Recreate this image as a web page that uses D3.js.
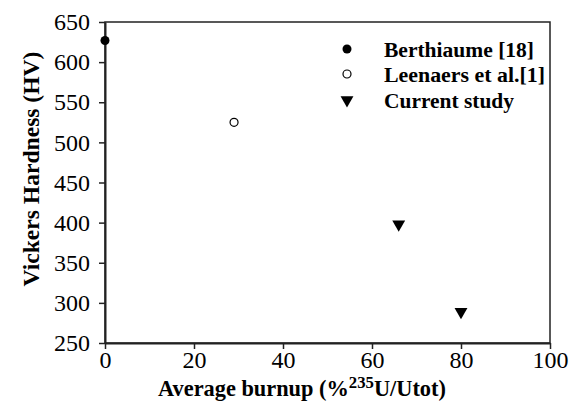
<!DOCTYPE html>
<html>
<head>
<meta charset="utf-8">
<script src="https://cdn.jsdelivr.net/npm/d3@7"></script>
</head>
<body style="margin:0">
<svg id="chart" width="576" height="404"></svg>
<script>
// ---- Data ----
const seriesNames = ["Berthiaume [18]", "Leenaers et al.[1]", "Current study"];
const berthiaumeX = [0];
const berthiaumeY = [627];
const leenaersX = [29];
const leenaersY = [525];
const currentX = [66, 80];
const currentY = [398, 289];
const xTicks = [0, 20, 40, 60, 80, 100];
const yTicks = [250, 300, 350, 400, 450, 500, 550, 600, 650];

const FONT = "Liberation Serif";
const svg = d3.select("#chart");
const W = 576, H = 404;

const x = d3.scaleLinear().domain([0, 100]).range([105, 550]);
const y = d3.scaleLinear().domain([250, 650]).range([343, 22]);

function serif(sel, size, bold) {
  sel.attr("font-family", FONT).style("font-family", FONT)
     .attr("font-size", size).attr("fill", "#000");
  if (bold) sel.attr("font-weight", "bold");
  return sel;
}
// shrink/grow a text to a target width by adjusting its font size
function fit(sel, base, target) {
  const w = sel.node().getComputedTextLength();
  sel.attr("font-size", (base * target / w).toFixed(2));
}

// frame
svg.append("rect")
  .attr("x", x(0)).attr("y", y(650))
  .attr("width", x(100) - x(0)).attr("height", y(250) - y(650))
  .attr("fill", "none").attr("stroke", "#222").attr("stroke-width", 1.5);

// axes
const xAxis = svg.append("g")
  .attr("transform", `translate(0,${y(250)})`)
  .call(d3.axisBottom(x).tickValues(xTicks).tickSizeOuter(0).tickSizeInner(6).tickPadding(2));
const yAxis = svg.append("g")
  .attr("transform", `translate(${x(0)},0)`)
  .call(d3.axisLeft(y).tickValues(yTicks).tickSizeOuter(0).tickSizeInner(6).tickPadding(9));

[xAxis, yAxis].forEach(g => {
  g.attr("font-family", FONT).attr("font-size", 24);
  g.select(".domain").attr("stroke", "#222").attr("stroke-width", 2);
  g.selectAll(".tick line").attr("stroke", "#222").attr("stroke-width", 1.5);
  serif(g.selectAll(".tick text"), 24, false);
});

// x title
const xt = serif(svg.append("text"), 21, true)
  .attr("x", 302).attr("y", 396).attr("text-anchor", "middle");
xt.append("tspan").text("Average burnup (%");
xt.append("tspan").attr("dy", -8).attr("font-size", "0.75em").text("235");
xt.append("tspan").attr("dy", 8).text("U/Utot)");
fit(xt, 21, 288);

// y title
const yt = serif(svg.append("text"), 22, true)
  .attr("transform", "translate(39,169) rotate(-90)")
  .attr("text-anchor", "middle")
  .text("Vickers Hardness (HV)");
fit(yt, 22, 235);

// markers
const tri = d3.symbol().type(d3.symbolTriangle).size(72);

svg.append("g").selectAll("circle")
  .data(berthiaumeX.map((d, i) => [d, berthiaumeY[i]]))
  .join("circle")
  .attr("cx", d => x(d[0])).attr("cy", d => y(d[1])).attr("r", 4.5)
  .attr("fill", "#000");

svg.append("g").selectAll("circle")
  .data(leenaersX.map((d, i) => [d, leenaersY[i]]))
  .join("circle")
  .attr("cx", d => x(d[0])).attr("cy", d => y(d[1])).attr("r", 4)
  .attr("fill", "#fff").attr("stroke", "#000").attr("stroke-width", 1.2);

svg.append("g").selectAll("path")
  .data(currentX.map((d, i) => [d, currentY[i]]))
  .join("path")
  .attr("d", tri)
  .attr("transform", d => `translate(${x(d[0])},${y(d[1])}) rotate(180)`)
  .attr("fill", "#000");

// legend
const legRows = [49, 74, 100];
const legLens = [150, 161, 130];
const leg = svg.append("g");
leg.append("circle").attr("cx", 347).attr("cy", legRows[0]).attr("r", 4.5).attr("fill", "#000");
leg.append("circle").attr("cx", 347).attr("cy", legRows[1]).attr("r", 4)
  .attr("fill", "#fff").attr("stroke", "#000").attr("stroke-width", 1.2);
leg.append("path").attr("d", tri).attr("transform", `translate(347,${legRows[2]}) rotate(180)`).attr("fill", "#000");
seriesNames.forEach((n, i) => {
  const t = serif(leg.append("text"), 20, true)
    .attr("x", 384).attr("y", legRows[i])
    .attr("dy", "0.35em")
    .text(n);
  fit(t, 20, legLens[i]);
});
</script>
</body>
</html>
